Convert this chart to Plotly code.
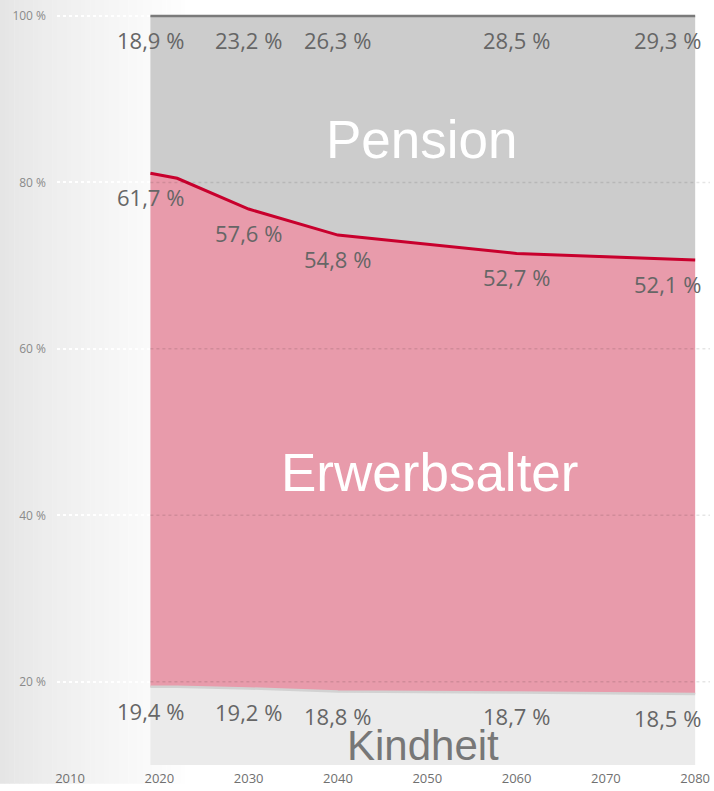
import plotly.graph_objects as go

# ---- data ----
years = [2019, 2022, 2030, 2040, 2060, 2080]
kindheit = [19.4, 19.4, 19.2, 18.8, 18.7, 18.5]
erwerbsalter = [61.7, 61.1, 57.6, 54.8, 52.7, 52.1]
pension = [18.9, 19.5, 23.2, 26.3, 28.5, 29.3]

label_years = [2019, 2030, 2040, 2060, 2080]
kindheit_labels = ["19,4 %", "19,2 %", "18,8 %", "18,7 %", "18,5 %"]
erwerbsalter_labels = ["61,7 %", "57,6 %", "54,8 %", "52,7 %", "52,1 %"]
pension_labels = ["18,9 %", "23,2 %", "26,3 %", "28,5 %", "29,3 %"]

x_ticks = [2010, 2020, 2030, 2040, 2050, 2060, 2070, 2080]
y_ticks = [20, 40, 60, 80, 100]

W, H = 714, 791
ML, MR, MT, MB = 57, 4, 12, 19
X_RANGE = [2008.54, 2081.66]
Y_RANGE = [10, 100.476]

fig = go.Figure()

fig.add_trace(go.Scatter(
    x=years, y=kindheit, name="Kindheit", stackgroup="one", groupnorm="percent",
    mode="lines", line=dict(color="#d2d2d2", width=2.5), fillcolor="#ebebeb",
))
fig.add_trace(go.Scatter(
    x=years, y=erwerbsalter, name="Erwerbsalter", stackgroup="one", mode="lines",
    line=dict(color="#c8002d", width=3), fillcolor="#e89bab",
))
fig.add_trace(go.Scatter(
    x=years, y=pension, name="Pension", stackgroup="one", mode="lines",
    line=dict(color="#7a7a7a", width=2.5), fillcolor="#cccccc",
))

# cumulative tops (normalised to 100 %) for labels
def cum_at(yr, series_list):
    i = years.index(yr)
    total = kindheit[i] + erwerbsalter[i] + pension[i]
    return sum(s[i] for s in series_list) * 100.0 / total

annotations = []
lab_font = dict(family="Segoe UI, Open Sans, sans-serif", size=22, color="#666666")
for j, yr in enumerate(label_years):
    for labels, series in (
        (kindheit_labels, [kindheit]),
        (erwerbsalter_labels, [kindheit, erwerbsalter]),
        (pension_labels, [kindheit, erwerbsalter, pension]),
    ):
        last = yr == label_years[-1]
        annotations.append(dict(
            x=yr, y=cum_at(yr, series), xref="x", yref="y",
            text=labels[j], showarrow=False, font=lab_font,
            xanchor="right" if last else "center", yanchor="middle",
            xshift=8 if last else 0, yshift=-24,
        ))

big = "Liberation Sans, Arial, sans-serif"
annotations += [
    dict(x=2049.4, y=85.2, xref="x", yref="y", text="Pension", showarrow=False,
         font=dict(family=big, size=53, color="white"), xanchor="center", yanchor="middle"),
    dict(x=2050.2, y=45.2, xref="x", yref="y", text="Erwerbsalter", showarrow=False,
         font=dict(family=big, size=53, color="white"), xanchor="center", yanchor="middle"),
    dict(x=2049.5, y=12.3, xref="x", yref="y", text="Kindheit", showarrow=False,
         font=dict(family=big, size=42, color="#777777"), xanchor="center", yanchor="middle"),
]

# background gradient on the left (decoration)
shapes = []
n = 40
grad_w = 190
for i in range(n):
    t = i / (n - 1)
    c = int(229 + (255 - 229) * (t ** 0.8))
    shapes.append(dict(
        type="rect", xref="paper", yref="paper", layer="below",
        x0=(-ML + i * grad_w / n) / (W - ML - MR), x1=(-ML + (i + 1) * grad_w / n + 0.5) / (W - ML - MR),
        y0=-MB / (H - MT - MB), y1=1 + MT / (H - MT - MB),
        fillcolor=f"rgb({c},{c},{c})", line=dict(width=0),
    ))
# dotted gridlines visible over the areas
for yv in y_ticks[:-1]:
    shapes.append(dict(
        type="line", xref="x", yref="y", layer="above",
        x0=years[0], x1=X_RANGE[1], y0=yv, y1=yv,
        line=dict(color="rgba(0,0,0,0.10)", width=1.5, dash="dot"),
    ))

fig.update_layout(
    width=W, height=H,
    margin=dict(l=ML, r=MR, t=MT, b=MB, pad=0),
    paper_bgcolor="white", plot_bgcolor="rgba(0,0,0,0)",
    showlegend=False,
    annotations=annotations, shapes=shapes,
    xaxis=dict(
        range=X_RANGE, tickvals=x_ticks, ticktext=[str(v) for v in x_ticks],
        showgrid=False, zeroline=False, showline=False, ticks="",
        tickfont=dict(family="Segoe UI, Open Sans, sans-serif", size=13, color="#707070"),
        ticklabelstandoff=4,
    ),
    yaxis=dict(
        range=Y_RANGE, tickvals=y_ticks, ticktext=[f"{v} %" for v in y_ticks],
        showgrid=True, gridcolor="white", gridwidth=1.5, griddash="dot",
        zeroline=False, showline=False, ticks="",
        tickfont=dict(family="Segoe UI, Open Sans, sans-serif", size=12, color="#8a8a8a"),
        ticklabelstandoff=10,
    ),
)

fig.write_html(
    "out.html",
    config={"displayModeBar": False},
    post_script="document.body.style.margin='0';document.body.style.overflow='hidden';",
)
